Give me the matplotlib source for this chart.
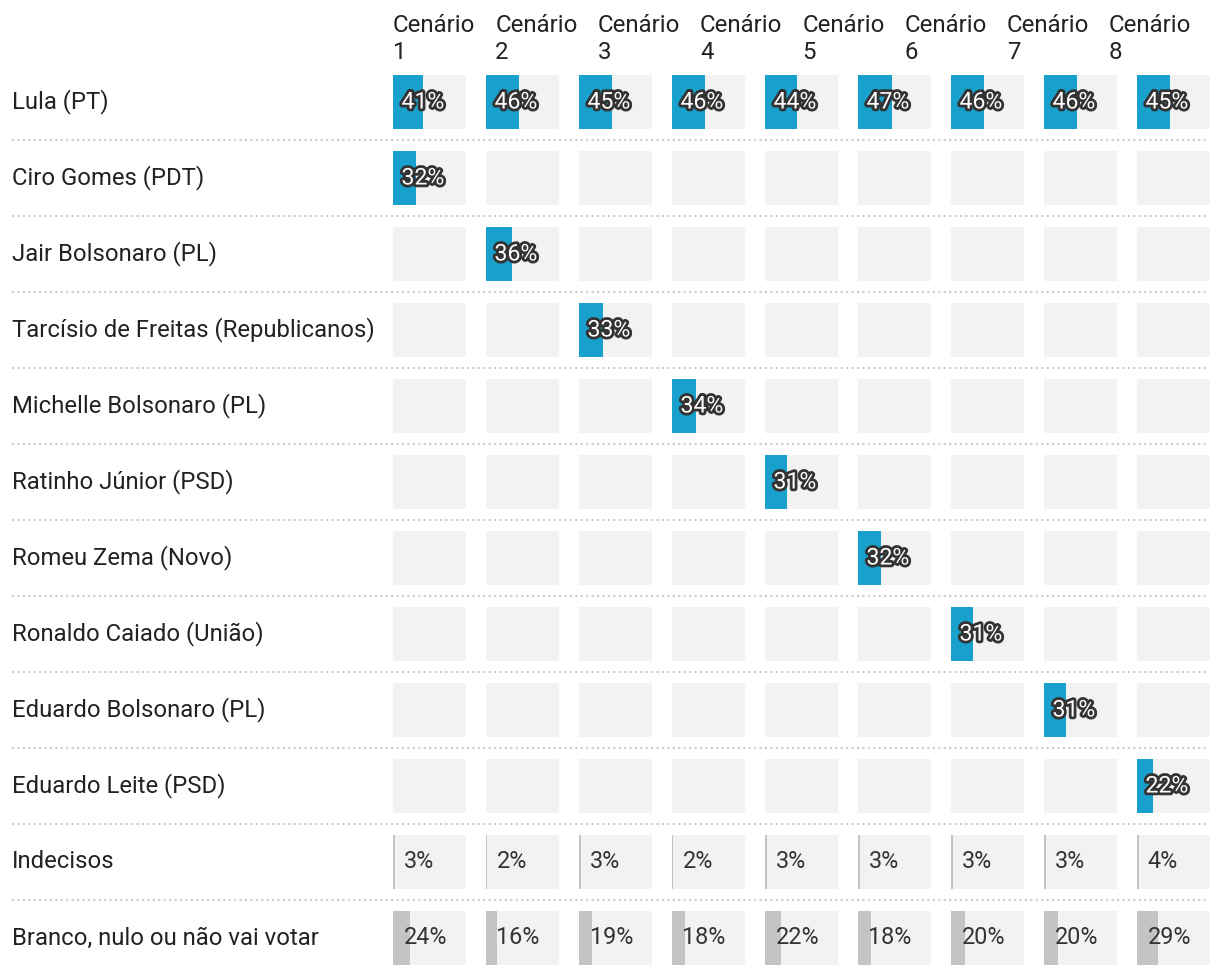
import matplotlib.pyplot as plt
import matplotlib.patheffects as pe

plt.rcParams['font.family'] = ['Roboto', 'DejaVu Sans']

headers = ['Cenário\n1', 'Cenário\n2', 'Cenário\n3', 'Cenário\n4', 'Cenário\n5',
           'Cenário\n6', 'Cenário\n7', 'Cenário\n8']
rows = ['Lula (PT)', 'Ciro Gomes (PDT)', 'Jair Bolsonaro (PL)',
        'Tarcísio de Freitas (Republicanos)', 'Michelle Bolsonaro (PL)',
        'Ratinho Júnior (PSD)', 'Romeu Zema (Novo)', 'Ronaldo Caiado (União)',
        'Eduardo Bolsonaro (PL)', 'Eduardo Leite (PSD)', 'Indecisos',
        'Branco, nulo ou não vai votar']
N = None
values = [
    [41, 46, 45, 46, 44, 47, 46, 46, 45],
    [32, N, N, N, N, N, N, N, N],
    [N, 36, N, N, N, N, N, N, N],
    [N, N, 33, N, N, N, N, N, N],
    [N, N, N, 34, N, N, N, N, N],
    [N, N, N, N, 31, N, N, N, N],
    [N, N, N, N, N, 32, N, N, N],
    [N, N, N, N, N, N, 31, N, N],
    [N, N, N, N, N, N, N, 31, N],
    [N, N, N, N, N, N, N, N, 22],
    [3, 2, 3, 2, 3, 3, 3, 3, 4],
    [24, 16, 19, 18, 22, 18, 20, 20, 29],
]

blue = '#18a1cd'
grey_bar = '#c4c4c4'
cell_bg = '#f2f2f2'
txt = '#222222'

fig = plt.figure(figsize=(12.2, 9.76), dpi=100)
ax = fig.add_axes([0, 0, 1, 1])
ax.set_xlim(0, 1220)
ax.set_ylim(976, 0)
ax.axis('off')

col_x0, col_step, cell_w = 392.5, 93.0, 73.5
row_y0, row_step, cell_h = 102, 76, 54
head_x0, head_step = 393, 102.3

for i, h in enumerate(headers):
    ax.text(head_x0 + i * head_step, 14, h, fontsize=17.3, color=txt,
            va='top', ha='left', linespacing=1.2)

for r, name in enumerate(rows):
    yc = row_y0 + r * row_step
    ax.text(12, yc, name, fontsize=17.2, color=txt, va='center', ha='left')
    if r > 0:
        ys = yc - row_step / 2
        ax.plot([12, 1208], [ys, ys], color='#cccccc', lw=1.5,
                linestyle=(0, (1, 1.6)))
    for c, v in enumerate(values[r]):
        x = col_x0 + c * col_step
        ax.bar(x, cell_h, width=cell_w, bottom=yc - cell_h / 2, align='edge',
               color=cell_bg, lw=0)
        if v is None:
            continue
        plain = r >= 10
        ax.bar(x, cell_h, width=cell_w * v / 100, bottom=yc - cell_h / 2,
               align='edge', color=grey_bar if plain else blue, lw=0)
        if plain:
            ax.text(x + 11, yc, f'{v}%', fontsize=16.8, color='#333333',
                    va='center', ha='left')
        else:
            ax.text(x + 9, yc, f'{v}%', fontsize=16.6, color='white',
                    va='center', ha='left',
                    path_effects=[pe.withStroke(linewidth=4, foreground='#333333')])

fig.savefig('out.png', dpi=100)
